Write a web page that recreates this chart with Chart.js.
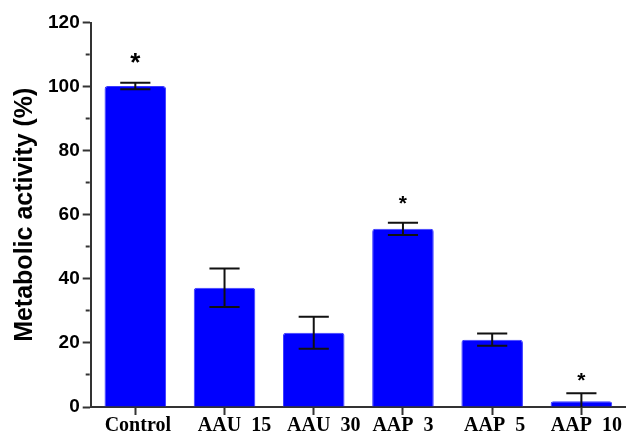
<!DOCTYPE html>
<html><head><meta charset="utf-8">
<script src="https://cdn.jsdelivr.net/npm/chart.js@4/dist/chart.umd.min.js"></script>
<style>html,body{margin:0;padding:0;background:#fff}</style>
</head><body>
<canvas id="c" width="626" height="436"></canvas>
<script>
// Category labels (leading spaces reproduce the original label placement)
const categories = [' Control', '    AAU  15', '    AAU  30', 'AAP  3', ' AAP  5', '  AAP  10'];
// Mean metabolic activity (%)
const meanValues = [100.2, 37.2, 23.2, 55.6, 21.0, 1.8];
// Error (SEM) for each bar
const errorValues = [1.0, 6.0, 5.0, 1.9, 1.9, 2.5];
// Height (in %) at which a significance asterisk is shown; null = none
const significanceY = [108.8, null, null, 64.5, null, 9.3];
// Y tick labels shown
const yTickLabels = [0, 20, 40, 60, 80, 100, 120];

const errorBarPlugin = {
  id: 'errorBars',
  afterDatasetsDraw(chart) {
    const ctx = chart.ctx, y = chart.scales.y, area = chart.chartArea;
    const meta = chart.getDatasetMeta(0);
    ctx.save();
    ctx.beginPath();
    ctx.rect(area.left, area.top - 5, area.right - area.left, area.bottom - area.top + 5);
    ctx.clip();
    ctx.strokeStyle = '#111';
    ctx.lineWidth = 2;
    meta.data.forEach((bar, i) => {
      const m = meanValues[i], e = errorValues[i];
      const yt = y.getPixelForValue(m + e), yb = y.getPixelForValue(m - e);
      const half = bar.width * 0.245;
      ctx.beginPath();
      ctx.moveTo(bar.x, yt); ctx.lineTo(bar.x, yb);
      ctx.moveTo(bar.x - half, yt); ctx.lineTo(bar.x + half, yt);
      ctx.moveTo(bar.x - half, yb); ctx.lineTo(bar.x + half, yb);
      ctx.stroke();
    });
    ctx.restore();
    // asterisks
    ctx.save();
    ctx.fillStyle = '#000';
    ctx.textAlign = 'center';
    ctx.textBaseline = 'alphabetic';
    significanceY.forEach((v, i) => {
      if (v === null) return;
      const size = i === 0 ? 26 : 21;
      ctx.font = 'bold ' + size + 'px "Liberation Sans", Arial, sans-serif';
      const mt = ctx.measureText('*');
      const px = meta.data[i].x;
      const py = y.getPixelForValue(v) + (mt.actualBoundingBoxAscent - mt.actualBoundingBoxDescent) / 2;
      ctx.fillText('*', px, py);
    });
    ctx.restore();
  }
};

new Chart(document.getElementById('c'), {
  type: 'bar',
  data: {
    labels: categories,
    datasets: [{
      data: meanValues,
      backgroundColor: '#0000ff',
      borderColor: '#3a3aff',
      borderWidth: 1,
      borderRadius: 3,
      barPercentage: 0.69,
      categoryPercentage: 1.0
    }]
  },
  options: {
    responsive: false,
    animation: false,
    devicePixelRatio: 1,
    layout: { padding: { top: 22.5, left: 6.5, right: 0, bottom: 0 } },
    plugins: { legend: { display: false }, tooltip: { enabled: false } },
    scales: {
      x: {
        offset: true,
        grid: { offset: false, drawOnChartArea: false, tickLength: 8, tickWidth: 2, tickColor: '#333' },
        border: { color: '#333', width: 2 },
        ticks: {
          autoSkip: false, maxRotation: 0, color: '#000', padding: 0.5,
          font: { family: '"Liberation Serif", "Times New Roman", serif', weight: 'bold', size: 20, lineHeight: 1.0 }
        }
      },
      y: {
        min: 0, max: 120,
        ticks: {
          stepSize: 10, autoSkip: false, color: '#000', padding: 3,
          callback: v => yTickLabels.includes(v) ? String(v) : '',
          font: { family: '"Liberation Sans", Arial, sans-serif', weight: 'bold', size: 19 }
        },
        grid: {
          drawOnChartArea: false, tickLength: 8, tickWidth: 2, tickColor: '#333',
          tickBorderDash: c => yTickLabels.includes(c.tick.value) ? [] : [4, 3],
          tickBorderDashOffset: c => yTickLabels.includes(c.tick.value) ? 0 : 4
        },
        border: { color: '#333', width: 2 },
        title: {
          display: true, text: 'Metabolic activity (%)', color: '#000',
          padding: { top: 4, bottom: 4.5 },
          font: { family: '"Liberation Sans", Arial, sans-serif', weight: 'bold', size: 25 }
        }
      }
    }
  },
  plugins: [errorBarPlugin]
});
</script>
</body></html>
